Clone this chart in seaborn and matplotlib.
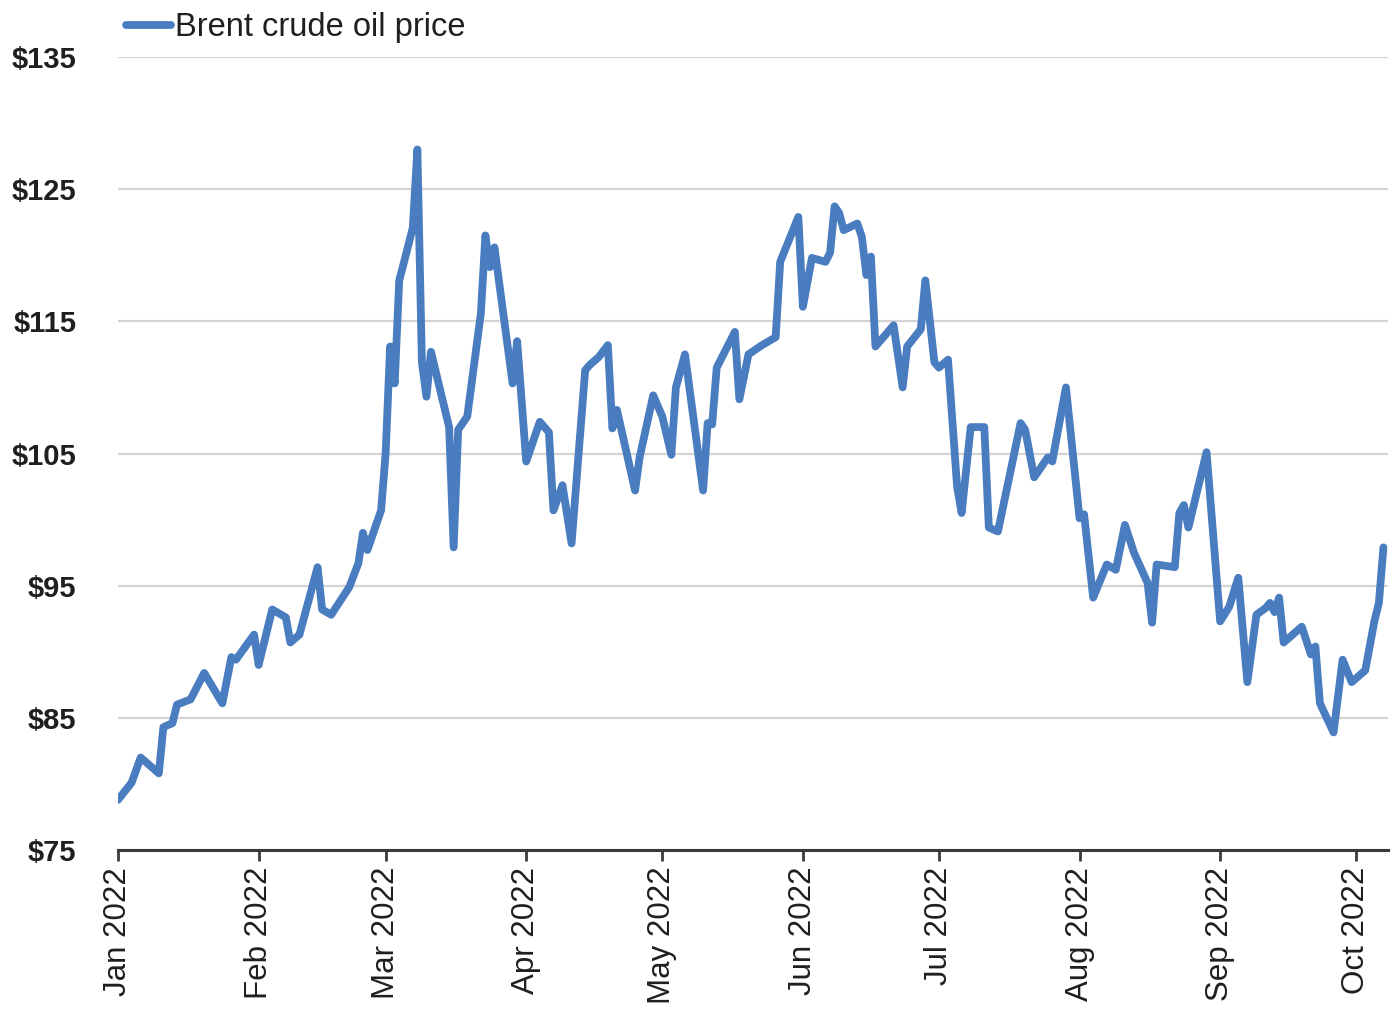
import matplotlib
matplotlib.use("Agg")
import matplotlib.pyplot as plt
import matplotlib.dates as mdates
from matplotlib.ticker import FixedLocator, FuncFormatter
import pandas as pd
import seaborn as sns

# Brent crude oil price, USD per barrel, 2022
dates = [
    "2022-01-01", "2022-01-04", "2022-01-06", "2022-01-10", "2022-01-11", "2022-01-13",
    "2022-01-14", "2022-01-17", "2022-01-20", "2022-01-24", "2022-01-26", "2022-01-27",
    "2022-01-31", "2022-02-01", "2022-02-04", "2022-02-07", "2022-02-08", "2022-02-10",
    "2022-02-14", "2022-02-15", "2022-02-17", "2022-02-21", "2022-02-23", "2022-02-24",
    "2022-02-25", "2022-02-28", "2022-03-01", "2022-03-02", "2022-03-03", "2022-03-04",
    "2022-03-05", "2022-03-07", "2022-03-08", "2022-03-09", "2022-03-10", "2022-03-11",
    "2022-03-15", "2022-03-16", "2022-03-17", "2022-03-19", "2022-03-22", "2022-03-23",
    "2022-03-24", "2022-03-25", "2022-03-29", "2022-03-30", "2022-04-01", "2022-04-04",
    "2022-04-06", "2022-04-07", "2022-04-09", "2022-04-11", "2022-04-14", "2022-04-15",
    "2022-04-17", "2022-04-19", "2022-04-20", "2022-04-21", "2022-04-25", "2022-04-26",
    "2022-04-29", "2022-05-01", "2022-05-03", "2022-05-04", "2022-05-06", "2022-05-10",
    "2022-05-11", "2022-05-12", "2022-05-13", "2022-05-17", "2022-05-18", "2022-05-20",
    "2022-05-23", "2022-05-26", "2022-05-27", "2022-05-31", "2022-06-01", "2022-06-03",
    "2022-06-06", "2022-06-07", "2022-06-08", "2022-06-09", "2022-06-10", "2022-06-13",
    "2022-06-14", "2022-06-15", "2022-06-16", "2022-06-17", "2022-06-21", "2022-06-23",
    "2022-06-24", "2022-06-27", "2022-06-28", "2022-06-30", "2022-07-01", "2022-07-03",
    "2022-07-05", "2022-07-06", "2022-07-08", "2022-07-11", "2022-07-12", "2022-07-14",
    "2022-07-19", "2022-07-20", "2022-07-22", "2022-07-25", "2022-07-26", "2022-07-27",
    "2022-07-29", "2022-08-01", "2022-08-02", "2022-08-04", "2022-08-07", "2022-08-09",
    "2022-08-11", "2022-08-13", "2022-08-16", "2022-08-17", "2022-08-18", "2022-08-22",
    "2022-08-23", "2022-08-24", "2022-08-25", "2022-08-29", "2022-09-01", "2022-09-03",
    "2022-09-05", "2022-09-07", "2022-09-09", "2022-09-11", "2022-09-12", "2022-09-13",
    "2022-09-14", "2022-09-15", "2022-09-19", "2022-09-21", "2022-09-22", "2022-09-23",
    "2022-09-26", "2022-09-28", "2022-09-30", "2022-10-03", "2022-10-05", "2022-10-06",
    "2022-10-07",
]
prices = [
    78.8, 80.1, 82.0, 80.8, 84.3, 84.6,
    86.0, 86.4, 88.4, 86.1, 89.6, 89.4,
    91.3, 89.0, 93.2, 92.6, 90.7, 91.3,
    96.4, 93.2, 92.8, 94.9, 96.7, 99.0,
    97.7, 100.7, 105.0, 113.1, 110.3, 118.1,
    119.4, 122.1, 128.0, 111.9, 109.3, 112.7,
    107.0, 97.9, 106.8, 107.8, 115.6, 121.5,
    119.1, 120.6, 110.3, 113.5, 104.4, 107.4,
    106.6, 100.7, 102.6, 98.2, 111.3, 111.7,
    112.3, 113.2, 106.9, 108.3, 102.2, 104.7,
    109.4, 107.8, 104.9, 110.0, 112.5, 102.2,
    107.3, 107.2, 111.5, 114.2, 109.1, 112.5,
    113.2, 113.8, 119.5, 122.9, 116.1, 119.8,
    119.5, 120.2, 123.7, 123.2, 121.9, 122.4,
    121.4, 118.5, 119.9, 113.1, 114.7, 110.0,
    113.1, 114.4, 118.1, 111.9, 111.5, 112.1,
    102.5, 100.5, 107.0, 107.0, 99.4, 99.1,
    107.3, 106.8, 103.2, 104.7, 104.4, 106.3,
    110.0, 100.1, 100.4, 94.1, 96.6, 96.2,
    99.6, 97.5, 95.2, 92.2, 96.6, 96.4,
    100.5, 101.1, 99.4, 105.1, 92.3, 93.4,
    95.6, 87.7, 92.8, 93.3, 93.7, 93.0,
    94.1, 90.7, 91.9, 89.8, 90.4, 86.1,
    83.9, 89.4, 87.7, 88.6, 92.3, 93.7,
    97.9,
]
series_name = "Brent crude oil price"
y_ticks = [75, 85, 95, 105, 115, 125, 135]

df = pd.DataFrame({"date": pd.to_datetime(dates), "price": prices})

sns.set_theme(style="white")
plt.rcParams["font.family"] = ["Liberation Sans", "DejaVu Sans"]

line_color = "#4a7cc0"
text_color = "#1f1f1f"

fig = plt.figure(figsize=(14, 10.14), dpi=100)
ax = fig.add_axes([0.0843, 0.1617, 0.9071, 0.7821])

sns.lineplot(data=df, x="date", y="price", ax=ax, color=line_color,
             linewidth=5.6, label=series_name)
for ln in ax.get_lines():
    ln.set_solid_joinstyle("round")
    ln.set_solid_capstyle("round")

ax.set_xlim(pd.Timestamp("2022-01-01"), pd.Timestamp("2022-10-08"))
ax.set_ylim(75, 135)

# horizontal gridlines
ax.yaxis.set_major_locator(FixedLocator(y_ticks))
ax.yaxis.set_major_formatter(FuncFormatter(lambda v, _: f"${v:.0f}"))
ax.grid(axis="y", color="#d4d4d4", linewidth=1.6)
ax.grid(axis="x", visible=False)

for side in ("left", "right", "top"):
    ax.spines[side].set_visible(False)
ax.spines["bottom"].set_color("#3a3a3a")
ax.spines["bottom"].set_linewidth(2.2)
ax.spines["bottom"].set_zorder(3)

ax.xaxis.set_major_locator(mdates.MonthLocator())
ax.xaxis.set_major_formatter(mdates.DateFormatter("%b %Y"))
ax.tick_params(axis="x", which="major", bottom=True, length=8, width=2,
               color="#3a3a3a", labelsize=22.5, labelcolor=text_color,
               pad=4, labelrotation=90)
ax.tick_params(axis="y", left=False, labelsize=21, labelcolor=text_color, pad=24)
for lbl in ax.get_yticklabels():
    lbl.set_fontweight("bold")

ax.set_xlabel("")
ax.set_ylabel("")

leg = ax.legend(loc="center left", bbox_to_anchor=(0.006, 1.037), frameon=False,
                fontsize=23.5, handlelength=1.4, handletextpad=0.1, borderpad=0,
                borderaxespad=0)
for t in leg.get_texts():
    t.set_color(text_color)

fig.savefig("out.png", dpi=100, facecolor="white")
